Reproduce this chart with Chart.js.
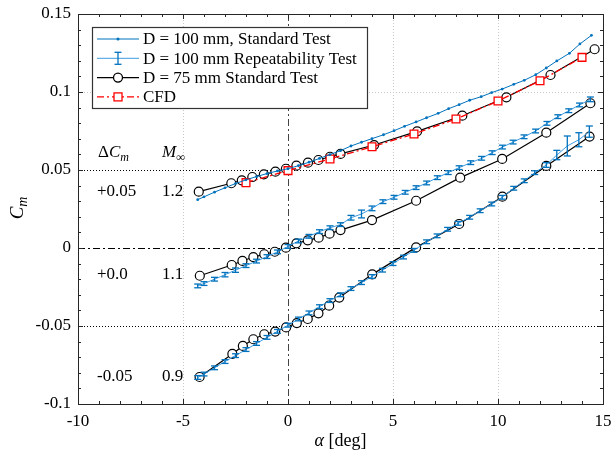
<!DOCTYPE html>
<html>
<head>
<meta charset="utf-8">
<script src="https://cdn.jsdelivr.net/npm/chart.js@4.4.1/dist/chart.umd.min.js"></script>
<style>
  html, body { margin: 0; padding: 0; background: #fff; }
</style>
</head>
<body>
<canvas id="myChart" width="612" height="457"></canvas>
<script>
// ---- data ----
const xTicks = [-10, -5, 0, 5, 10, 15]
const yTicks = [-0.1, -0.05, 0, 0.05, 0.1, 0.15]

// D = 100 mm standard test (M = 1.2)
const stdAlpha = [-4.3, -4, -3.5, -3, -2.5, -2, -1.5, -1, -0.5, 0, 0.5, 1, 1.5, 2, 2.5, 3, 3.5, 4, 4.55, 5.05, 5.55, 6.1, 6.6, 7.15, 7.65, 8.15, 8.65, 9.2, 9.7, 10.2, 10.75, 11.25, 11.8, 12.3, 12.8, 13.4, 13.9, 14.45]
const stdCm = [0.031, 0.0328, 0.0358, 0.0386, 0.0413, 0.0437, 0.0458, 0.0477, 0.0494, 0.0508, 0.0528, 0.055, 0.0574, 0.0599, 0.0624, 0.0654, 0.0678, 0.0701, 0.0726, 0.0752, 0.078, 0.0808, 0.0835, 0.0863, 0.0893, 0.0919, 0.0947, 0.097, 0.0996, 0.1019, 0.1049, 0.1075, 0.1111, 0.1154, 0.1199, 0.1248, 0.1308, 0.1363]

// D = 100 mm repeatability test (M = 1.1, shifted 0)
const rep11Alpha = [-4.3, -4, -3.5, -3, -2.5, -2, -1.5, -1, -0.5, 0, 0.5, 1, 1.5, 2, 2.5, 3.0, 3.5, 4.0, 4.52, 5.05, 5.58, 6.1, 6.6, 7.11, 7.63, 8.15, 8.7, 9.22, 9.72, 10.21, 10.72, 11.24, 11.79, 12.33, 12.85, 13.37, 13.88, 14.4]
const rep11Cm = [-0.0243, -0.0228, -0.02, -0.0171, -0.0142, -0.0113, -0.0084, -0.0055, -0.0025, 0.001, 0.0045, 0.0075, 0.0105, 0.013, 0.015, 0.0194, 0.0218, 0.0254, 0.0297, 0.0325, 0.0357, 0.0387, 0.0417, 0.0451, 0.0483, 0.0515, 0.0547, 0.0575, 0.0611, 0.0647, 0.0679, 0.0713, 0.075, 0.0799, 0.0842, 0.088, 0.0917, 0.0953]
const rep11Err = [0.0012, 0.0012, 0.0012, 0.0014, 0.0014, 0.0012, 0.0012, 0.0012, 0.0012, 0.0012, 0.0012, 0.0012, 0.0012, 0.0012, 0.0012, 0.0015, 0.0025, 0.0015, 0.0012, 0.0012, 0.0012, 0.0012, 0.0012, 0.0012, 0.0012, 0.0012, 0.0012, 0.0012, 0.0012, 0.0012, 0.0012, 0.0012, 0.0012, 0.0012, 0.0012, 0.0012, 0.0012, 0.0015]

// D = 100 mm repeatability test (M = 0.9, shifted -0.05)
const rep09Alpha = [-4.3, -4, -3.5, -3, -2.5, -2, -1.5, -1, -0.5, 0, 0.5, 1, 1.5, 2, 2.5, 3, 3.5, 4, 4.5, 5, 5.5, 6, 6.6, 7.1, 7.6, 8.1, 8.65, 9.15, 9.7, 10.2, 10.75, 11.25, 11.75, 12.3, 12.8, 13.3, 13.85, 14.35]
const rep09Cm = [-0.083, -0.0808, -0.0768, -0.0728, -0.069, -0.0651, -0.0612, -0.0573, -0.0534, -0.0495, -0.0455, -0.0416, -0.0376, -0.0337, -0.03, -0.026, -0.0222, -0.0183, -0.0142, -0.01, -0.0058, -0.0015, 0.004, 0.0078, 0.012, 0.0158, 0.0197, 0.0239, 0.0282, 0.0325, 0.0383, 0.0431, 0.0483, 0.0532, 0.0596, 0.0654, 0.0694, 0.0746]
const rep09Err = [0.0012, 0.0012, 0.0012, 0.0012, 0.0012, 0.0012, 0.0012, 0.0012, 0.0012, 0.0012, 0.0012, 0.0012, 0.0012, 0.0012, 0.0012, 0.0012, 0.0012, 0.0012, 0.0012, 0.0012, 0.0012, 0.0012, 0.0012, 0.0012, 0.0012, 0.0012, 0.0012, 0.0012, 0.0012, 0.0012, 0.0012, 0.0012, 0.0012, 0.0015, 0.003, 0.0064, 0.0045, 0.0036]

// D = 75 mm standard test, three Mach numbers
const d75Alpha12 = [-4.25, -2.7, -2.2, -1.7, -1.15, -0.6, -0.1, 0.4, 0.95, 1.45, 2.0, 2.5, 4.1, 6.15, 8.3, 10.4, 12.5, 14.6]
const d75Cm12 = [0.0361, 0.0415, 0.0434, 0.0455, 0.0472, 0.0489, 0.0508, 0.0528, 0.0547, 0.0564, 0.0585, 0.0603, 0.066, 0.0748, 0.0848, 0.0966, 0.1109, 0.1274]
const d75Alpha11 = [-4.2, -2.68, -2.17, -1.65, -1.13, -0.63, -0.1, 0.4, 0.94, 1.46, 1.98, 2.5, 4.0, 6.1, 8.2, 10.2, 12.3, 14.4]
const d75Cm11 = [-0.0178, -0.0109, -0.0083, -0.0058, -0.004, -0.0024, 0.0002, 0.003, 0.0049, 0.0066, 0.0092, 0.0115, 0.0179, 0.0303, 0.0451, 0.0571, 0.0739, 0.0928]
const d75Alpha09 = [-4.21, -2.65, -2.15, -1.65, -1.13, -0.61, -0.09, 0.42, 0.94, 1.45, 1.96, 2.44, 4.01, 6.1, 8.15, 10.21, 12.3, 14.36]
const d75Cm09 = [-0.0827, -0.0679, -0.0628, -0.0585, -0.0553, -0.0536, -0.0509, -0.0481, -0.0455, -0.0419, -0.037, -0.0318, -0.0169, 0.0004, 0.0154, 0.0329, 0.0526, 0.0714]

// CFD (M = 1.2)
const cfdAlpha = [-2, 0, 2, 4, 6, 8, 10, 12, 14]
const cfdCm = [0.0419, 0.0496, 0.0571, 0.0649, 0.0731, 0.0827, 0.0942, 0.1072, 0.1222]

// offset annotations on the left
const offsetLabels = ['+0.05', '+0.0', '-0.05']
const machLabels = ['1.2', '1.1', '0.9']

const legendLabels = ['D = 100 mm, Standard Test', 'D = 100 mm Repeatability Test', 'D = 75 mm Standard Test', 'CFD']

// ---- styles ----
const SERIF = '"Liberation Serif", "DejaVu Serif", serif'
const BLUE = '#0072bd'
const BLUE_LIGHT = '#3d9be0'
const RED = '#ff0000'
const DASHDOT = [7, 3, 2, 3]

function pts(xs, ys) {
  return xs.map(function (x, i) { return { x: x, y: ys[i] } })
}

function line(ctx, x1, y1, x2, y2) {
  ctx.beginPath()
  ctx.moveTo(x1, y1)
  ctx.lineTo(x2, y2)
  ctx.stroke()
}

function drawErrBar(ctx, px, py1, py2, col) {
  ctx.strokeStyle = col
  ctx.lineWidth = 1.3
  line(ctx, px, py1, px, py2)
  line(ctx, px - 3.5, py1, px + 3.5, py1)
  line(ctx, px - 3.5, py2, px + 3.5, py2)
}

// subscripted italic symbol, e.g. C_m
function drawSub(ctx, x, y, main, sub, size) {
  ctx.font = 'italic ' + size + 'px ' + SERIF
  ctx.fillText(main, x, y)
  const w = ctx.measureText(main).width
  ctx.font = 'italic ' + Math.round(size * 0.72) + 'px ' + SERIF
  ctx.fillText(sub, x + w, y + size * 0.3)
  return w + ctx.measureText(sub).width
}

const decor = {
  id: 'decor',
  beforeDatasetsDraw(chart) {
    const ctx = chart.ctx
    const a = chart.chartArea
    const sx = chart.scales.x
    const sy = chart.scales.y
    ctx.save()
    // faint dotted grid
    ctx.strokeStyle = '#c8c8c8'
    ctx.lineWidth = 1
    ctx.setLineDash([1, 2])
    xTicks.forEach(function (v) {
      if (v === 0 || v === xTicks[0] || v === xTicks[xTicks.length - 1]) return
      const p = Math.round(sx.getPixelForValue(v)) + 0.5
      line(ctx, p, a.top, p, a.bottom)
    })
    yTicks.forEach(function (v) {
      if (v === 0 || v === yTicks[0] || v === yTicks[yTicks.length - 1]) return
      const p = Math.round(sy.getPixelForValue(v)) + 0.5
      line(ctx, a.left, p, a.right, p)
    })
    // black dotted lines at +-0.05
    ctx.strokeStyle = '#000'
    ctx.setLineDash([1, 2])
    ;[0.05, -0.05].forEach(function (v) {
      const p = Math.round(sy.getPixelForValue(v)) + 0.5
      line(ctx, a.left, p, a.right, p)
    })
    // dash-dot zero lines
    ctx.setLineDash(DASHDOT)
    ctx.strokeStyle = '#000'
    let p = Math.round(sy.getPixelForValue(0)) + 0.5
    line(ctx, a.left, p, a.right, p)
    ctx.strokeStyle = '#444'
    p = Math.round(sx.getPixelForValue(0)) + 0.5
    line(ctx, p, a.top, p, a.bottom)
    ctx.restore()
  },
  afterDatasetDraw(chart, args) {
    const ds = chart.data.datasets[args.index]
    if (!ds.errors) return
    const ctx = chart.ctx
    const sx = chart.scales.x
    const sy = chart.scales.y
    ctx.save()
    ds.data.forEach(function (d, i) {
      const px = sx.getPixelForValue(d.x)
      drawErrBar(ctx, px, sy.getPixelForValue(d.y + ds.errors[i]), sy.getPixelForValue(d.y - ds.errors[i]), BLUE)
    })
    ctx.restore()
  },
  afterDraw(chart) {
    const ctx = chart.ctx
    const a = chart.chartArea
    const sx = chart.scales.x
    const sy = chart.scales.y
    ctx.save()
    // frame
    ctx.strokeStyle = '#262626'
    ctx.lineWidth = 1
    ctx.strokeRect(Math.round(a.left) + 0.5, Math.round(a.top) + 0.5, Math.round(a.right - a.left), Math.round(a.bottom - a.top))
    // inward ticks on all sides
    for (let v = xTicks[0]; v <= xTicks[xTicks.length - 1]; v++) {
      const len = (v % 5 === 0) ? 5 : 3
      const p = Math.round(sx.getPixelForValue(v)) + 0.5
      line(ctx, p, a.bottom, p, a.bottom - len)
      line(ctx, p, a.top, p, a.top + len)
    }
    for (let k = -10; k <= 15; k++) {
      const v = k / 100
      const len = (k % 5 === 0) ? 5 : 3
      const p = Math.round(sy.getPixelForValue(v)) + 0.5
      line(ctx, a.left, p, a.left + len, p)
      line(ctx, a.right, p, a.right - len, p)
    }

    // legend box
    const lx = 92, ly = 27, lw = 275, lh = 81
    ctx.fillStyle = '#fff'
    ctx.fillRect(lx, ly, lw, lh)
    ctx.strokeStyle = '#333'
    ctx.lineWidth = 1.2
    ctx.strokeRect(lx + 0.5, ly + 0.5, lw, lh)
    ctx.textBaseline = 'middle'
    legendLabels.forEach(function (txt, i) {
      const yy = ly + 12 + i * 19.3
      const x1 = lx + 5, x2 = lx + 47, xm = (x1 + x2) / 2
      ctx.setLineDash([])
      if (i === 0) {
        ctx.strokeStyle = BLUE; ctx.lineWidth = 1
        line(ctx, x1, yy, x2, yy)
        ctx.fillStyle = BLUE
        ctx.beginPath(); ctx.arc(xm, yy, 1.5, 0, Math.PI * 2); ctx.fill()
      } else if (i === 1) {
        ctx.strokeStyle = BLUE_LIGHT; ctx.lineWidth = 1
        line(ctx, x1, yy, x2, yy)
        drawErrBar(ctx, xm, yy - 6, yy + 6, BLUE)
      } else if (i === 2) {
        ctx.strokeStyle = '#000'; ctx.lineWidth = 1.3
        line(ctx, x1, yy, x2, yy)
        ctx.fillStyle = '#fff'
        ctx.beginPath(); ctx.arc(xm, yy, 4.5, 0, Math.PI * 2); ctx.fill(); ctx.stroke()
      } else {
        ctx.strokeStyle = RED; ctx.lineWidth = 1.3
        ctx.setLineDash(DASHDOT)
        line(ctx, x1, yy, x2, yy)
        ctx.setLineDash([])
        ctx.fillStyle = '#fff'
        ctx.fillRect(xm - 4, yy - 4, 8, 8)
        ctx.strokeRect(xm - 4, yy - 4, 8, 8)
      }
      ctx.fillStyle = '#000'
      ctx.font = '17px ' + SERIF
      ctx.fillText(txt, lx + 51, yy + 1)
    })

    // left annotations
    ctx.fillStyle = '#000'
    ctx.textBaseline = 'middle'
    ctx.font = '17px ' + SERIF
    ctx.fillText('\u0394', 98, 153)
    const dw = ctx.measureText('\u0394').width
    drawSub(ctx, 98 + dw, 153, 'C', 'm', 17)
    drawSub(ctx, 162, 153, 'M', '\u221e', 17)
    const rows = [192, 275, 377]
    rows.forEach(function (yy, i) {
      ctx.font = '17px ' + SERIF
      ctx.fillText(offsetLabels[i], 97, yy)
      ctx.fillText(machLabels[i], 162, yy)
    })

    // axis titles
    ctx.font = 'italic 18px ' + SERIF
    const aw = ctx.measureText('\u03b1').width
    ctx.font = '18px ' + SERIF
    const bw = ctx.measureText(' [deg]').width
    const cx = (a.left + a.right) / 2
    ctx.textAlign = 'left'
    ctx.font = 'italic 18px ' + SERIF
    ctx.fillText('\u03b1', cx - (aw + bw) / 2, 441)
    ctx.font = '18px ' + SERIF
    ctx.fillText(' [deg]', cx - (aw + bw) / 2 + aw, 441)

    ctx.translate(18, (a.top + a.bottom) / 2)
    ctx.rotate(-Math.PI / 2)
    ctx.font = 'italic 19px ' + SERIF
    const cw = ctx.measureText('C').width + 8
    drawSub(ctx, -cw / 2, 0, 'C', 'm', 19)
    ctx.restore()
  }
}

const datasets = [
  {
    label: legendLabels[0],
    data: pts(stdAlpha, stdCm),
    showLine: true,
    borderColor: BLUE,
    backgroundColor: BLUE,
    borderWidth: 1,
    pointRadius: 1.4,
    pointBorderWidth: 0
  },
  {
    label: legendLabels[1],
    data: pts(rep11Alpha, rep11Cm),
    errors: rep11Err,
    showLine: true,
    borderColor: BLUE_LIGHT,
    borderWidth: 1,
    pointRadius: 0
  },
  {
    label: legendLabels[1],
    data: pts(rep09Alpha, rep09Cm),
    errors: rep09Err,
    showLine: true,
    borderColor: BLUE_LIGHT,
    borderWidth: 1,
    pointRadius: 0
  },
  {
    label: legendLabels[3],
    data: pts(cfdAlpha, cfdCm),
    showLine: true,
    borderColor: RED,
    borderWidth: 1.3,
    borderDash: DASHDOT,
    pointStyle: 'rect',
    pointRadius: 5.5,
    pointBackgroundColor: '#fff',
    pointBorderColor: RED,
    pointBorderWidth: 1.3
  }
]
;[[d75Alpha12, d75Cm12], [d75Alpha11, d75Cm11], [d75Alpha09, d75Cm09]].forEach(function (s) {
  datasets.push({
    label: legendLabels[2],
    data: pts(s[0], s[1]),
    showLine: true,
    borderColor: '#000',
    borderWidth: 1.2,
    pointRadius: 4.5,
    pointBackgroundColor: '#fff',
    pointBorderColor: '#000',
    pointBorderWidth: 1.2
  })
})

const config = {
  type: 'scatter',
  data: { datasets: datasets },
  options: {
    responsive: false,
    animation: false,
    devicePixelRatio: 1,
    layout: { padding: { top: 14, right: 9, left: 0, bottom: 0 } },
    plugins: { legend: { display: false }, tooltip: { enabled: false } },
    scales: {
      x: {
        type: 'linear',
        min: -10,
        max: 15,
        afterFit: function (s) { s.height = 53; s.paddingLeft = 0; s.paddingRight = 0 },
        afterBuildTicks: function (s) { s.ticks = xTicks.map(function (v) { return { value: v } }) },
        grid: { display: false, drawTicks: false },
        border: { display: false },
        ticks: {
          padding: 7,
          color: '#000',
          font: { family: SERIF, size: 17 },
          callback: function (v) { return String(v) }
        }
      },
      y: {
        type: 'linear',
        min: -0.1,
        max: 0.15,
        afterFit: function (s) { s.width = 78; s.paddingTop = 0; s.paddingBottom = 0 },
        afterBuildTicks: function (s) { s.ticks = yTicks.map(function (v) { return { value: v } }) },
        grid: { display: false, drawTicks: false },
        border: { display: false },
        ticks: {
          padding: 7,
          color: '#000',
          font: { family: SERIF, size: 17 },
          callback: function (v) { return String(+v.toFixed(2)) }
        }
      }
    }
  },
  plugins: [decor]
}

const myChart = new Chart(document.getElementById('myChart'), config)
</script>
</body>
</html>
